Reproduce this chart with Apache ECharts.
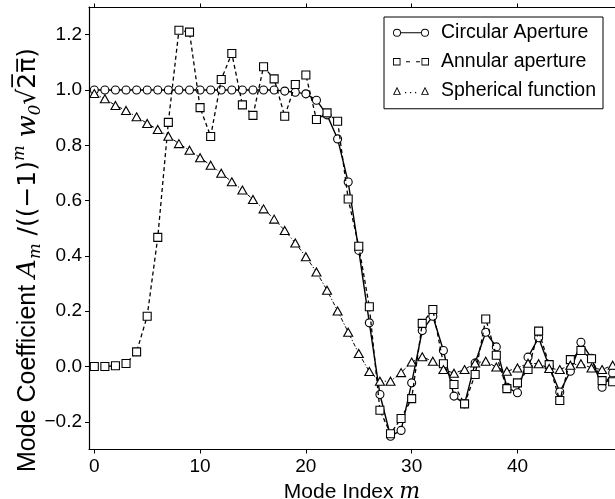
<!DOCTYPE html>
<html>
<head>
<meta charset="utf-8">
<script src="https://cdn.jsdelivr.net/npm/echarts@6.0.0/dist/echarts.min.js"></script>
<style>
html,body{margin:0;padding:0;background:#fff;}
#chart{width:615px;height:499px;}
</style>
</head>
<body>
<div id="chart"></div>
<script>
// ---- data ----
var modeIndex = [0,1,2,3,4,5,6,7,8,9,10,11,12,13,14,15,16,17,18,19,20,21,22,23,24,25,26,27,28,29,30,31,32,33,34,35,36,37,38,39,40,41,42,43,44,45,46,47,48,49];
var circular = [1.0,1.0,1.0,1.0,1.0,1.0,1.0,1.0,1.0,1.0,1.0,1.0,1.0,1.0,1.0,1.0,1.0,1.0,0.996,
  0.992,0.986,0.963,0.91,0.823,0.667,0.42,0.158,-0.101,-0.252,-0.231,-0.059,0.130,0.182,0.058,-0.107,-0.135,0.013,0.124,0.071,-0.075,-0.095,0.034,0.104,0.0,-0.092,-0.017,0.088,0.03,-0.075,-0.023];
var annular = [0,0,0.003,0.011,0.053,0.182,0.467,0.883,1.216,1.209,0.936,0.832,1.038,1.132,0.946,0.908,1.084,1.04,0.905,1.02,
  1.054,0.893,0.917,0.887,0.606,0.435,0.216,-0.158,-0.243,-0.188,-0.116,0.156,0.206,0.010,-0.065,-0.135,-0.029,0.172,0.041,-0.080,
  -0.059,-0.011,0.128,0.007,-0.123,0.025,0.058,0.028,-0.051,-0.055];
var spherical = [0.987,0.968,0.944,0.926,0.903,0.879,0.857,0.833,0.806,0.782,
  0.755,0.728,0.699,0.668,0.638,0.604,0.570,0.533,0.492,0.447,
  0.397,0.342,0.276,0.201,0.124,0.047,-0.018,-0.053,-0.053,-0.022,
  0.016,0.035,0.019,-0.011,-0.024,-0.011,0.013,0.019,-0.002,-0.017,
  -0.005,0.012,0.010,-0.007,-0.011,0.005,0.010,-0.005,-0.011,0.005];
var seriesNames = ['Circular Aperture','Annular aperture','Spherical function'];
var xTicks = [0,10,20,30,40];
var yTicks = [-0.2,0.0,0.2,0.4,0.6,0.8,1.0,1.2];

function pairs(vals){ return modeIndex.map(function(m,i){ return [m, vals[i]]; }); }

var FONT = 'Liberation Sans, Arial, Helvetica, sans-serif';

// legend icons: marker - line - marker
var iconCircle = 'path://M0,4 A4,4 0 1,1 8,4 A4,4 0 1,1 0,4 Z M0.9,4 A3.1,3.1 0 1,0 7.1,4 A3.1,3.1 0 1,0 0.9,4 Z ' +
  'M8,3.4 L28,3.4 L28,4.6 L8,4.6 Z ' +
  'M28,4 A4,4 0 1,1 36,4 A4,4 0 1,1 28,4 Z M28.9,4 A3.1,3.1 0 1,0 35.1,4 A3.1,3.1 0 1,0 28.9,4 Z';
var iconSquare = 'path://M0,0.5 L7.5,0.5 L7.5,8 L0,8 Z M0.9,1.4 L0.9,7.1 L6.6,7.1 L6.6,1.4 Z ' +
  'M13,3.7 L17,3.7 L17,4.8 L13,4.8 Z M23,3.7 L27,3.7 L27,4.8 L23,4.8 Z ' +
  'M28.5,0.5 L36,0.5 L36,8 L28.5,8 Z M29.4,1.4 L29.4,7.1 L35.1,7.1 L35.1,1.4 Z';
var iconTri = 'path://M0,8 L4,0 L8,8 Z M1.5,7.2 L6.5,7.2 L4,2.1 Z ' +
  'M12,5.3 L13.2,5.3 L13.2,6.4 L12,6.4 Z M17,5.3 L18.2,5.3 L18.2,6.4 L17,6.4 Z M22,5.3 L23.2,5.3 L23.2,6.4 L22,6.4 Z ' +
  'M28,8 L32,0 L36,8 Z M29.5,7.2 L34.5,7.2 L32,2.1 Z';

var chart = echarts.init(document.getElementById('chart'), null, {renderer:'canvas'});

var option = {
  backgroundColor: '#fff',
  animation: false,
  grid: {left: 89, right: 0, top: 7, bottom: 49.5, containLabel: false, outerBoundsMode: 'none'},
  xAxis: [{
    type: 'value', min: -0.5, max: 49.22, position: 'bottom',
    name: 'Mode Index {it|m}', nameLocation: 'middle', nameGap: 26,
    nameTextStyle: {fontSize: 21, fontFamily: FONT, color: '#000',
      rich: {it: {fontSize: 22, fontStyle: 'italic', fontFamily: 'DejaVu Serif, serif', color: '#000'}}},
    axisLine: {show: true, onZero: false, lineStyle: {color: '#000', width: 1.2}},
    axisTick: {show: true, inside: false, length: 4, customValues: xTicks, lineStyle: {color: '#000', width: 1}},
    axisLabel: {show: true, margin: 8, fontSize: 19, fontFamily: FONT, color: '#000', customValues: xTicks},
    splitLine: {show: false}
  }, {
    type: 'value', min: -0.5, max: 49.22, position: 'top',
    axisLine: {show: true, onZero: false, lineStyle: {color: '#000', width: 1.2}},
    axisTick: {show: true, inside: false, length: 3.5, customValues: xTicks, lineStyle: {color: '#000', width: 1}},
    axisLabel: {show: false},
    splitLine: {show: false}
  }],
  yAxis: [{
    type: 'value', min: -0.3, max: 1.3,
    axisLine: {show: true, onZero: false, lineStyle: {color: '#000', width: 1.2}},
    axisTick: {show: true, inside: false, length: 4, customValues: yTicks, lineStyle: {color: '#000', width: 1}},
    axisLabel: {show: true, margin: 7, fontSize: 19, fontFamily: FONT, color: '#000', customValues: yTicks,
      formatter: function(v){ return (v < 0 ? '\u2212' : '') + Math.abs(v).toFixed(1); }},
    splitLine: {show: false}
  }],
  legend: {
    orient: 'vertical', left: 384, top: 17,
    padding: [5.75, 7, 8, 9], itemGap: 9,
    itemWidth: 36, itemHeight: 8,
    borderColor: '#000', borderWidth: 1, borderRadius: 0, backgroundColor: '#fff',
    textStyle: {fontSize: 19.5, fontFamily: FONT, color: '#000', padding: [0, 0, 0, 7]},
    itemStyle: {color: '#000', borderWidth: 0},
    selectedMode: false,
    data: [
      {name: seriesNames[0], icon: iconCircle},
      {name: seriesNames[1], icon: iconSquare},
      {name: seriesNames[2], icon: iconTri}
    ]
  },
  graphic: [{
    type: 'text', x: 28, y: 260, rotation: Math.PI / 2,
    style: {
      text: 'Mode Coefficient {it|A}{sub|m}{n| /((\u22121)}{sup|m}{n| }{it|w}{sub|0}{n|\u221A2\u0305\u03C0\u0305)}',
      align: 'center', verticalAlign: 'middle',
      fontSize: 25, fontFamily: FONT, fill: '#000', lineHeight: 33,
      rich: {
        n: {fontSize: 25, fontFamily: 'DejaVu Sans, ' + FONT, fill: '#000', lineHeight: 33},
        it: {fontSize: 26, fontStyle: 'italic', fontFamily: 'DejaVu Serif, serif', fill: '#000', lineHeight: 33},
        sub: {fontSize: 16.5, fontStyle: 'italic', fontFamily: 'DejaVu Serif, serif', fill: '#000', verticalAlign: 'bottom', lineHeight: 33},
        sup: {fontSize: 16.5, fontStyle: 'italic', fontFamily: 'DejaVu Serif, serif', fill: '#000', verticalAlign: 'top', lineHeight: 33}
      }
    }
  }],
  series: [{
    name: seriesNames[0], type: 'line', data: pairs(circular),
    symbol: 'circle', symbolSize: 8, showAllSymbol: true,
    lineStyle: {color: '#000', width: 1.4, type: 'solid'},
    itemStyle: {color: '#fff', borderColor: '#000', borderWidth: 1.1},
    z: 2
  }, {
    name: seriesNames[1], type: 'line', data: pairs(annular),
    symbol: 'rect', symbolSize: 8, showAllSymbol: true,
    lineStyle: {color: '#000', width: 1.3, type: [4, 3]},
    itemStyle: {color: '#fff', borderColor: '#000', borderWidth: 1.1},
    z: 3
  }, {
    name: seriesNames[2], type: 'line', data: pairs(spherical),
    symbol: 'triangle', symbolSize: [9, 8], showAllSymbol: true,
    lineStyle: {color: '#000', width: 1, type: [4, 2, 1.2, 2]},
    itemStyle: {color: '#fff', borderColor: '#000', borderWidth: 1.1},
    z: 4
  }]
};
chart.setOption(option);
</script>
</body>
</html>
